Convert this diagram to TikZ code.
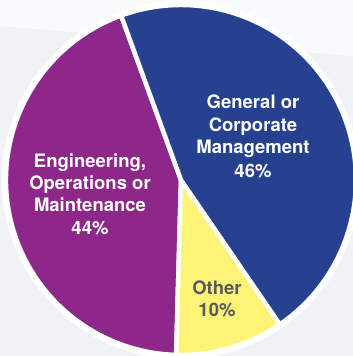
\documentclass[tikz,border=0pt]{standalone}
\usepackage{fontspec}
\setmainfont{TeX Gyre Heros}
\usetikzlibrary{calc}
\definecolor{pieblue}{RGB}{38,65,143}
\definecolor{piepurple}{RGB}{142,39,138}
\definecolor{pieyellow}{RGB}{253,243,116}
\definecolor{bggray}{RGB}{241,242,245}
\definecolor{labelgray}{RGB}{88,89,91}
\tikzset{
  slice/.style={draw=white, line width=4.5pt, line join=round},
  lbl/.style={font=\fontsize{18.5}{21}\selectfont\bfseries, text=white, anchor=base, inner sep=0pt},
  lbldark/.style={lbl, text=labelgray}
}
\begin{document}
\begin{tikzpicture}[x=1pt,y=1pt]
\useasboundingbox (0,0) rectangle (353,356);
\fill[bggray] (0,0) rectangle (353,356);
\fill[white!60!bggray] (0,356) -- (353,356) -- (353,300) -- (0,330) -- cycle;
\coordinate (c) at (181,176);
\fill[white] (c) circle[radius=179];
% purple 44%
\filldraw[slice, fill=piepurple] (c) -- ($(c)+(110:175)$) arc[start angle=110, end angle=268.4, radius=175] -- cycle;
% yellow 10%
\filldraw[slice, fill=pieyellow] (c) -- ($(c)+(268.4:175)$) arc[start angle=268.4, end angle=304.4, radius=175] -- cycle;
% blue 46%
\filldraw[slice, fill=pieblue] (c) -- ($(c)+(304.4:175)$) arc[start angle=304.4, end angle=470, radius=175] -- cycle;
% labels (baselines)
\node[lbl] (g1) at (253,247.7) {General or};
\node[lbl] (g2) at (253,224.3) {Corporate};
\node[lbl] (g3) at (253,202.7) {Management};
\node[lbl] (g4) at (253,178.3) {46\%};
\node[lbl] (e1) at (90,188.3) {Engineering,};
\node[lbl] (e2) at (90,166) {Operations or};
\node[lbl] (e3) at (90,144.3) {Maintenance};
\node[lbl] (e4) at (90,121) {44\%};
\node[lbldark] (o1) at (217,61) {Other};
\node[lbldark] (o2) at (217,39.3) {10\%};
\end{tikzpicture}
\end{document}
